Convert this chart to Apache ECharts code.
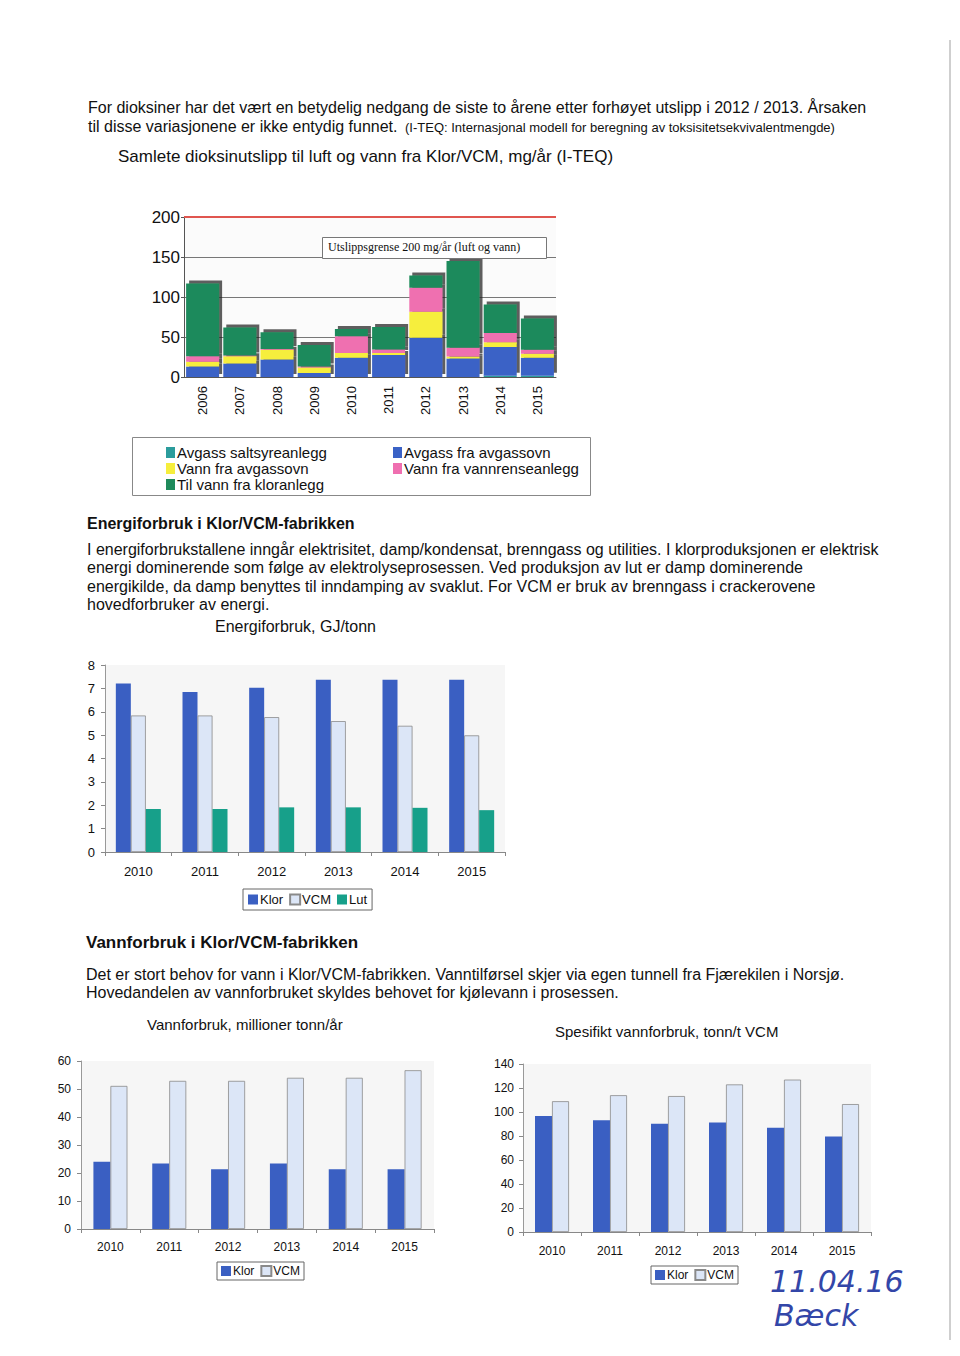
<!DOCTYPE html>
<html>
<head>
<meta charset="utf-8">
<script src="https://cdn.jsdelivr.net/npm/echarts@6/dist/echarts.min.js"></script>
<style>
html,body{margin:0;padding:0;background:#fff;}
#c{width:960px;height:1356px;}
</style>
</head>
<body>
<div id="c"></div>
<script>
// ---------- data ----------
const dioxYears = ['2006','2007','2008','2009','2010','2011','2012','2013','2014','2015'];
const dioxSaltsyre = [0, 0, 0, 0, 0, 0, 0, 0, 1.5, 1.5];
const dioxAvgassOvn = [13, 17, 22, 5, 24, 27.5, 49, 23, 36, 22.5];
const dioxVannAvgass = [6, 9, 12, 7, 6, 2.5, 32.5, 2.5, 6, 5];
const dioxVannRense = [7, 1, 1, 1, 21, 4.5, 30, 11, 11.5, 5];
const dioxKloranlegg = [91, 35, 21, 27, 9, 28, 15.5, 108.5, 35.5, 39];
const dioxLimit = 200;
const dioxTicks = [0, 50, 100, 150, 200];

const years = ['2010','2011','2012','2013','2014','2015'];
const energyKlor = [7.21, 6.85, 7.03, 7.37, 7.37, 7.37];
const energyVCM = [5.84, 5.84, 5.77, 5.6, 5.4, 4.99];
const energyLut = [1.84, 1.84, 1.91, 1.91, 1.89, 1.79];

const waterKlor = [24, 23.4, 21.3, 23.4, 21.3, 21.3];
const waterVCM = [51.1, 52.9, 52.9, 54, 54, 56.7];

const specKlor = [96.6, 93.2, 90.2, 91.3, 86.8, 79.6];
const specVCM = [109, 114, 113.3, 123, 127, 106.6];

// ---------- styles ----------
const C = {
  teal: '#2b9c9c', blue: '#3a62c6', yellow: '#f6ee3c', pink: '#ef6fb0', green: '#1f8a5b',
  klor: '#3a5fc2', vcm: '#dce6f7', lut: '#17a08a'
};
const FONT = "'Liberation Sans', Arial, sans-serif";
const NARROW = "'Liberation Sans Narrow', 'Liberation Sans', Arial, sans-serif";

function txt(x, y, s, opt) {
  opt = opt || {};
  return {
    type: 'text', left: x, top: y, silent: true, z: opt.z || 10,
    style: {
      text: s, fill: opt.color || '#111',
      font: (opt.style || '') + ' ' + (opt.weight || 'normal') + ' ' + (opt.size || 16) + 'px ' + (opt.family || FONT)
    }
  };
}

const chart = echarts.init(document.getElementById('c'), null, {renderer: 'svg'});

const axisGray = {lineStyle: {color: '#888', width: 1}};
const depth = {shadowColor: 'rgba(30,30,30,0.7)', shadowBlur: 0, shadowOffsetX: 3, shadowOffsetY: -3};

function barSeries(name, data, xi, color, extra) {
  return Object.assign({
    type: 'bar', name: name, data: data, xAxisIndex: xi, yAxisIndex: xi,
    itemStyle: {color: color}
  }, extra || {});
}
function dioxSeries(name, data, color, extra) {
  return Object.assign({
    type: 'bar', name: name, data: data, xAxisIndex: 0, yAxisIndex: 0, stack: 'd', barWidth: 33,
    itemStyle: Object.assign({color: color}, depth)
  }, extra || {});
}

const option = {
  animation: false,
  backgroundColor: '#ffffff',
  grid: [
    {left: 184, top: 217, width: 372, height: 160, show: true, backgroundColor: '#fbfbfb', borderWidth: 0},
    {left: 105, top: 665, width: 400, height: 187, show: true, backgroundColor: '#f6f6f6', borderWidth: 0},
    {left: 81, top: 1061, width: 353, height: 168, show: true, backgroundColor: '#f6f6f6', borderWidth: 0},
    {left: 523, top: 1064, width: 348, height: 168, show: true, backgroundColor: '#f6f6f6', borderWidth: 0}
  ],
  xAxis: [
    {gridIndex: 0, type: 'category', data: dioxYears,
     axisLine: {lineStyle: {color: '#555'}}, axisTick: {show: false},
     axisLabel: {rotate: 90, color: '#111', fontFamily: NARROW, fontSize: 13, margin: 9}},
    {gridIndex: 1, type: 'category', data: years,
     axisLine: axisGray, axisTick: {show: true, length: 4, lineStyle: {color: '#888'}},
     axisLabel: {color: '#111', fontFamily: FONT, fontSize: 13, margin: 13}},
    {gridIndex: 2, type: 'category', data: years,
     axisLine: axisGray, axisTick: {show: true, length: 4, lineStyle: {color: '#888'}},
     axisLabel: {color: '#111', fontFamily: FONT, fontSize: 12, margin: 12}},
    {gridIndex: 3, type: 'category', data: years,
     axisLine: axisGray, axisTick: {show: true, length: 4, lineStyle: {color: '#888'}},
     axisLabel: {color: '#111', fontFamily: FONT, fontSize: 12, margin: 13}}
  ],
  yAxis: [
    {gridIndex: 0, type: 'value', min: dioxTicks[0], max: dioxTicks[dioxTicks.length - 1], interval: 50,
     axisLine: {show: true, lineStyle: {color: '#555'}}, axisTick: {show: true, length: 3},
     splitLine: {show: true, lineStyle: {color: '#777', width: 1}},
     axisLabel: {color: '#111', fontFamily: NARROW, fontSize: 17, margin: 4}},
    {gridIndex: 1, type: 'value', min: 0, max: 8, interval: 1,
     axisLine: {show: true, lineStyle: {color: '#999'}}, axisTick: {show: true, length: 4, lineStyle: {color: '#888'}},
     splitLine: {show: false},
     axisLabel: {color: '#111', fontFamily: FONT, fontSize: 13, margin: 10}},
    {gridIndex: 2, type: 'value', min: 0, max: 60, interval: 10,
     axisLine: {show: true, lineStyle: {color: '#999'}}, axisTick: {show: true, length: 4, lineStyle: {color: '#888'}},
     splitLine: {show: false},
     axisLabel: {color: '#111', fontFamily: FONT, fontSize: 12, margin: 10}},
    {gridIndex: 3, type: 'value', min: 0, max: 140, interval: 20,
     axisLine: {show: true, lineStyle: {color: '#999'}}, axisTick: {show: true, length: 4, lineStyle: {color: '#888'}},
     splitLine: {show: false},
     axisLabel: {color: '#111', fontFamily: FONT, fontSize: 12, margin: 9}}
  ],
  legend: [
    {orient: 'vertical', left: 161, top: 440, itemGap: 1, itemWidth: 9, itemHeight: 11, icon: 'rect',
     data: ['Avgass saltsyreanlegg', 'Vann fra avgassovn', 'Til vann fra kloranlegg'],
     textStyle: {fontFamily: NARROW, fontSize: 15, color: '#111', padding: [0, 0, 0, -3]}, selectedMode: false},
    {orient: 'vertical', left: 388, top: 440, itemGap: 1, itemWidth: 9, itemHeight: 11, icon: 'rect',
     data: ['Avgass fra avgassovn', 'Vann fra vannrenseanlegg'],
     textStyle: {fontFamily: NARROW, fontSize: 15, color: '#111', padding: [0, 0, 0, -3]}, selectedMode: false},
    {left: 243, top: 889, itemGap: 6, itemWidth: 10, itemHeight: 10, icon: 'rect',
     borderColor: '#666', borderWidth: 1, padding: [4, 5, 4, 5],
     data: ['Klor', 'VCM', 'Lut'],
     textStyle: {fontFamily: FONT, fontSize: 13, color: '#111', padding: [0, 0, 0, -3]}, selectedMode: false},
    {left: 217, top: 1262, itemGap: 6, itemWidth: 10, itemHeight: 10, icon: 'rect',
     borderColor: '#666', borderWidth: 1, padding: [3, 4, 3, 4],
     data: ['Klor', 'VCM'],
     textStyle: {fontFamily: FONT, fontSize: 12, color: '#111', padding: [0, 0, 0, -3]}, selectedMode: false},
    {left: 651, top: 1266, itemGap: 6, itemWidth: 10, itemHeight: 10, icon: 'rect',
     borderColor: '#666', borderWidth: 1, padding: [3, 4, 3, 4],
     data: ['Klor', 'VCM'],
     textStyle: {fontFamily: FONT, fontSize: 12, color: '#111', padding: [0, 0, 0, -3]}, selectedMode: false}
  ],
  series: [
    dioxSeries('Avgass saltsyreanlegg', dioxSaltsyre, C.teal),
    dioxSeries('Avgass fra avgassovn', dioxAvgassOvn, C.blue),
    dioxSeries('Vann fra avgassovn', dioxVannAvgass, C.yellow),
    dioxSeries('Vann fra vannrenseanlegg', dioxVannRense, C.pink),
    dioxSeries('Til vann fra kloranlegg', dioxKloranlegg, C.green, {
      markLine: {symbol: 'none', silent: true, label: {show: false},
        lineStyle: {color: '#e0554f', width: 2, type: 'solid', shadowBlur: 0, shadowOffsetX: 0, shadowOffsetY: 0, shadowColor: 'transparent'},
        data: [{yAxis: dioxLimit}]}}),

    barSeries('Klor', energyKlor, 1, C.klor, {barWidth: 15, barGap: '0%'}),
    barSeries('VCM', energyVCM, 1, C.vcm, {barWidth: 15, barGap: '0%', itemStyle: {color: C.vcm, borderColor: '#8a8a8a', borderWidth: 0.8}}),
    barSeries('Lut', energyLut, 1, C.lut, {barWidth: 15, barGap: '0%'}),

    barSeries('Klor', waterKlor, 2, C.klor, {barWidth: 17, barGap: '0%'}),
    barSeries('VCM', waterVCM, 2, C.vcm, {barWidth: 17, barGap: '0%', itemStyle: {color: C.vcm, borderColor: '#8a8a8a', borderWidth: 0.8}}),

    barSeries('Klor', specKlor, 3, C.klor, {barWidth: 17, barGap: '0%'}),
    barSeries('VCM', specVCM, 3, C.vcm, {barWidth: 17, barGap: '0%', itemStyle: {color: C.vcm, borderColor: '#8a8a8a', borderWidth: 0.8}})
  ],
  graphic: [
    // page texts
    txt(88, 99, 'For dioksiner har det vært en betydelig nedgang de siste to årene etter forhøyet utslipp i 2012 / 2013. Årsaken'),
    txt(88, 118, 'til disse variasjonene er ikke entydig funnet.'),
    txt(405, 121, '(I-TEQ: Internasjonal modell for beregning av toksisitetsekvivalentmengde)', {size: 13, family: NARROW}),
    txt(118, 148, 'Samlete dioksinutslipp til luft og vann fra Klor/VCM, mg/år (I-TEQ)', {size: 17}),
    // limit label box
    {type: 'rect', left: 322, top: 237, z: 100, shape: {width: 224, height: 21}, silent: true,
     style: {fill: '#fff', stroke: '#777', lineWidth: 1}},
    txt(328, 241, 'Utslippsgrense 200 mg/år (luft og vann)', {size: 12, z: 101, family: "'Liberation Serif', 'DejaVu Serif', serif"}),
    // dioxin legend box
    {type: 'rect', left: 130, top: 435, shape: {width: 458, height: 58}, silent: true,
     style: {fill: 'none', stroke: '#888', lineWidth: 1}},

    txt(87, 515, 'Energiforbruk i Klor/VCM-fabrikken', {weight: 'bold'}),
    txt(87, 541, 'I energiforbrukstallene inngår elektrisitet, damp/kondensat, brenngass og utilities. I klorproduksjonen er elektrisk'),
    txt(87, 559, 'energi dominerende som følge av elektrolyseprosessen. Ved produksjon av lut er damp dominerende'),
    txt(87, 578, 'energikilde, da damp benyttes til inndamping av svaklut. For VCM er bruk av brenngass i crackerovene'),
    txt(87, 596, 'hovedforbruker av energi.'),
    txt(215, 618, 'Energiforbruk, GJ/tonn'),

    txt(86, 934, 'Vannforbruk i Klor/VCM-fabrikken', {weight: 'bold', size: 17}),
    txt(86, 966, 'Det er stort behov for vann i Klor/VCM-fabrikken. Vanntilførsel skjer via egen tunnell fra Fjærekilen i Norsjø.'),
    txt(86, 984, 'Hovedandelen av vannforbruket skyldes behovet for kjølevann i prosessen.'),
    txt(147, 1017, 'Vannforbruk, millioner tonn/år', {size: 15}),
    txt(555, 1024, 'Spesifikt vannforbruk, tonn/t VCM', {size: 15}),

    // handwriting
    txt(770, 1266, '11.04.16', {size: 30, style: 'italic', color: '#3346a8', family: "'DejaVu Sans', sans-serif", weight: 200}),
    txt(774, 1300, 'Bæck', {size: 30, style: 'italic', color: '#3346a8', family: "'DejaVu Sans', sans-serif", weight: 200}),

    // scan edge line
    {type: 'line', silent: true, shape: {x1: 950, y1: 40, x2: 950, y2: 1340},
     style: {stroke: '#cfcfcf', lineWidth: 2}}
  ]
};
chart.setOption(option);
</script>
</body>
</html>
